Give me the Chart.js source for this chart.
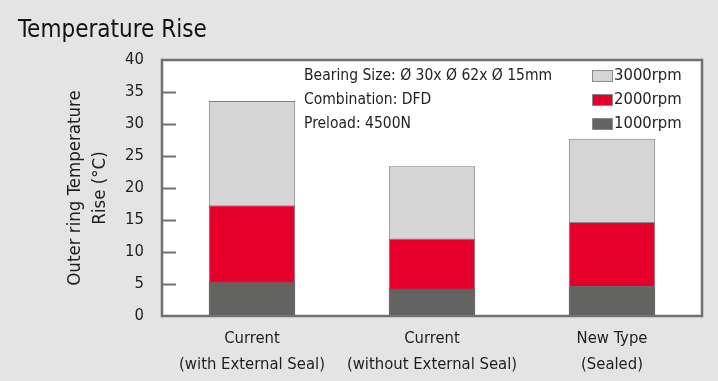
<!DOCTYPE html>
<html>
<head>
<meta charset="utf-8">
<script src="https://cdn.jsdelivr.net/npm/chart.js@4"></script>
<style>
  html, body { margin: 0; padding: 0; background: #e4e4e4; }
  #wrap { width: 718px; height: 381px; }
</style>
</head>
<body>
<div id="wrap"><canvas id="tempChart" width="718" height="381"></canvas></div>
<script>
// Data
const categories = [
    ['Current', '(with External Seal)'],
    ['Current', '(without External Seal)'],
    ['New Type', '(Sealed)']
];
const rpm1000 = [5.4, 4.3, 4.7];
const rpm2000 = [17.3, 12.1, 14.7];
const rpm3000 = [33.6, 23.4, 27.7];
const seriesLabels = ['3000rpm', '2000rpm', '1000rpm'];
const notes = ['Bearing Size: Ø 30x Ø 62x Ø 15mm', 'Combination: DFD', 'Preload: 4500N'];
const yMin = 0, yMax = 40, yStep = 5;

const FONT = '"Liberation Sans Narrow", "DejaVu Sans Condensed", Roboto, sans-serif';

// Title, frame, inward ticks, note text and legend
const decorations = {
    id: 'decorations',
    afterDatasetsDraw(chart) {
        const ctx = chart.ctx;
        const area = chart.chartArea;
        const y = chart.scales.y;
        ctx.save();

        // inward tick marks
        ctx.strokeStyle = '#6e6e6e';
        ctx.lineWidth = 2;
        for (let v = yMin + yStep; v < yMax; v += yStep) {
            const py = Math.round(y.getPixelForValue(v)) + 0.5;
            ctx.beginPath();
            ctx.moveTo(area.left, py);
            ctx.lineTo(area.left + 14, py);
            ctx.stroke();
        }

        // frame
        ctx.strokeStyle = '#717171';
        ctx.lineWidth = 2.5;
        ctx.strokeRect(area.left, area.top, area.right - area.left, area.bottom - area.top);

        // notes
        ctx.fillStyle = '#1e1e1e';
        ctx.font = '15.5px ' + FONT;
        ctx.textBaseline = 'middle';
        ctx.textAlign = 'left';
        notes.forEach((t, i) => ctx.fillText(t, 304, 75.5 + i * 24));

        // legend
        const ds = chart.data.datasets;
        ctx.font = '16.5px ' + FONT;
        seriesLabels.forEach((lbl, i) => {
            const d = ds.find(s => s.label === lbl);
            const ly = 76 + i * 24;
            ctx.fillStyle = d.backgroundColor;
            ctx.fillRect(592, ly - 6, 21, 12);
            ctx.strokeStyle = '#8a8a8a';
            ctx.lineWidth = 1;
            ctx.strokeRect(592.5, ly - 5.5, 20, 11);
            ctx.fillStyle = '#1e1e1e';
            ctx.fillText(lbl, 614, ly);
        });

        // page title
        ctx.font = '24px ' + FONT;
        ctx.textBaseline = 'alphabetic';
        ctx.fillStyle = '#111111';
        ctx.fillText('Temperature Rise', 18, 37);
        ctx.restore();
    }
};

const plotBg = {
    id: 'plotBg',
    beforeDraw(chart) {
        const a = chart.chartArea;
        chart.ctx.save();
        chart.ctx.fillStyle = '#ffffff';
        chart.ctx.fillRect(a.left, a.top, a.right - a.left, a.bottom - a.top);
        chart.ctx.restore();
    }
};

new Chart(document.getElementById('tempChart'), {
    type: 'bar',
    data: {
        labels: categories,
        datasets: [
            { label: '3000rpm', data: rpm3000, backgroundColor: '#d4d5d4', borderColor: '#7d7d7d', borderWidth: 1, order: 3 },
            { label: '2000rpm', data: rpm2000, backgroundColor: '#e4002b', borderColor: '#8a8a8a', borderWidth: 1, order: 2 },
            { label: '1000rpm', data: rpm1000, backgroundColor: '#636361', borderColor: '#6a6a6a', borderWidth: 1, order: 1 }
        ]
    },
    options: {
        responsive: false,
        animation: false,
        layout: { padding: { top: 60, right: 16, bottom: 0, left: 0 } },
        datasets: { bar: { barPercentage: 0.48, categoryPercentage: 1 } },
        plugins: {
            legend: { display: false },
            tooltip: { enabled: false }
        },
        scales: {
            x: {
                stacked: true,
                grid: { display: false },
                border: { display: false },
                ticks: { color: '#1e1e1e', font: { family: FONT, size: 16.5, lineHeight: 1.55 }, padding: 2, maxRotation: 0 },
                afterFit(scale) { scale.height = 65; }
            },
            y: {
                stacked: false,
                min: yMin,
                max: yMax,
                grid: { display: false },
                border: { display: false },
                ticks: { stepSize: yStep, color: '#1e1e1e', font: { family: FONT, size: 16.5 }, padding: 10 },
                title: {
                    display: true,
                    text: ['Outer ring Temperature', 'Rise (°C)'],
                    color: '#1e1e1e',
                    font: { family: FONT, size: 18.5, lineHeight: 1.35 },
                    padding: { top: 63, bottom: 0 }
                },
                afterFit(scale) { scale.width = 162; }
            }
        }
    },
    plugins: [plotBg, decorations]
});
</script>
</body>
</html>
